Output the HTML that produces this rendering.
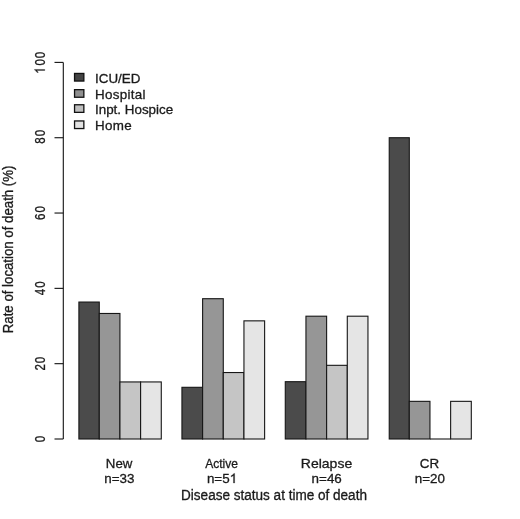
<!DOCTYPE html>
<html><head><meta charset="utf-8"><style>
html,body{margin:0;padding:0;background:#fff;}
svg{display:block;will-change:transform;}
text{font-family:"Liberation Sans",sans-serif;font-size:13.4px;fill:#1a1a1a;stroke:#1a1a1a;stroke-width:0.3px;}
</style></head><body>
<svg width="520" height="519" viewBox="0 0 520 519">
<rect width="520" height="519" fill="#fff"/>
<rect x="78.90" y="302.05" width="20.37" height="136.95" fill="#4b4b4b" stroke="#161616" stroke-width="1.1"/>
<rect x="99.27" y="313.47" width="20.67" height="125.53" fill="#969696" stroke="#161616" stroke-width="1.1"/>
<rect x="119.94" y="381.94" width="20.67" height="57.06" fill="#c5c5c5" stroke="#161616" stroke-width="1.1"/>
<rect x="140.61" y="381.94" width="20.67" height="57.06" fill="#e5e5e5" stroke="#161616" stroke-width="1.1"/>
<rect x="181.94" y="387.31" width="20.67" height="51.69" fill="#4b4b4b" stroke="#161616" stroke-width="1.1"/>
<rect x="202.61" y="298.70" width="20.67" height="140.30" fill="#969696" stroke="#161616" stroke-width="1.1"/>
<rect x="223.28" y="372.54" width="20.67" height="66.46" fill="#c5c5c5" stroke="#161616" stroke-width="1.1"/>
<rect x="243.95" y="320.85" width="20.67" height="118.15" fill="#e5e5e5" stroke="#161616" stroke-width="1.1"/>
<rect x="285.28" y="381.69" width="20.67" height="57.31" fill="#4b4b4b" stroke="#161616" stroke-width="1.1"/>
<rect x="305.95" y="316.20" width="20.67" height="122.80" fill="#969696" stroke="#161616" stroke-width="1.1"/>
<rect x="326.62" y="365.32" width="20.67" height="73.68" fill="#c5c5c5" stroke="#161616" stroke-width="1.1"/>
<rect x="347.29" y="316.20" width="20.67" height="122.80" fill="#e5e5e5" stroke="#161616" stroke-width="1.1"/>
<rect x="389.23" y="137.72" width="20.07" height="301.28" fill="#4b4b4b" stroke="#161616" stroke-width="1.1"/>
<rect x="409.29" y="401.34" width="20.67" height="37.66" fill="#969696" stroke="#161616" stroke-width="1.1"/>
<line x1="429.96" y1="439.0" x2="450.63" y2="439.0" stroke="#161616" stroke-width="1.1"/>
<rect x="450.63" y="401.34" width="20.67" height="37.66" fill="#e5e5e5" stroke="#161616" stroke-width="1.1"/>
<line x1="63.3" y1="62.4" x2="63.3" y2="439.0" stroke="#111" stroke-width="1.1"/>
<line x1="54.5" y1="439.00" x2="63.3" y2="439.00" stroke="#111" stroke-width="1.1"/>
<g transform="translate(44.8,439.00) rotate(-90) scale(1,1.07)"><g transform="translate(0.000,0) scale(0.86,1) translate(-3.726,0)"><text x="0" y="0">0</text></g></g>
<line x1="54.5" y1="363.68" x2="63.3" y2="363.68" stroke="#111" stroke-width="1.1"/>
<g transform="translate(44.8,363.68) rotate(-90) scale(1,1.07)"><g transform="translate(-3.726,0) scale(0.86,1) translate(-3.726,0)"><text x="0" y="0">2</text></g><g transform="translate(3.726,0) scale(0.86,1) translate(-3.726,0)"><text x="0" y="0">0</text></g></g>
<line x1="54.5" y1="288.36" x2="63.3" y2="288.36" stroke="#111" stroke-width="1.1"/>
<g transform="translate(44.8,288.36) rotate(-90) scale(1,1.07)"><g transform="translate(-3.726,0) scale(0.86,1) translate(-3.726,0)"><text x="0" y="0">4</text></g><g transform="translate(3.726,0) scale(0.86,1) translate(-3.726,0)"><text x="0" y="0">0</text></g></g>
<line x1="54.5" y1="213.04" x2="63.3" y2="213.04" stroke="#111" stroke-width="1.1"/>
<g transform="translate(44.8,213.04) rotate(-90) scale(1,1.07)"><g transform="translate(-3.726,0) scale(0.86,1) translate(-3.726,0)"><text x="0" y="0">6</text></g><g transform="translate(3.726,0) scale(0.86,1) translate(-3.726,0)"><text x="0" y="0">0</text></g></g>
<line x1="54.5" y1="137.72" x2="63.3" y2="137.72" stroke="#111" stroke-width="1.1"/>
<g transform="translate(44.8,136.72) rotate(-90) scale(1,1.07)"><g transform="translate(-3.726,0) scale(0.86,1) translate(-3.726,0)"><text x="0" y="0">8</text></g><g transform="translate(3.726,0) scale(0.86,1) translate(-3.726,0)"><text x="0" y="0">0</text></g></g>
<line x1="54.5" y1="62.40" x2="63.3" y2="62.40" stroke="#111" stroke-width="1.1"/>
<g transform="translate(44.8,62.40) rotate(-90) scale(1,1.07)"><g transform="translate(-7.452,0) scale(0.86,1) translate(-3.726,0)"><path d="M763 0L583 0L583 1147C540 1106 483 1065 413 1024C343 983 280 952 223 931L223 1105C323 1152 410 1209 485 1276C560 1343 613 1407 644 1466L763 1466Z" transform="translate(-0.8,0) scale(0.006543,-0.006543)" fill="#1a1a1a" stroke="#1a1a1a" stroke-width="0.3" vector-effect="non-scaling-stroke"/></g><g transform="translate(-0.000,0) scale(0.86,1) translate(-3.726,0)"><text x="0" y="0">0</text></g><g transform="translate(7.452,0) scale(0.86,1) translate(-3.726,0)"><text x="0" y="0">0</text></g></g>
<text transform="translate(13.00,249.40) rotate(-90) scale(0.988,1.08)" text-anchor="middle">Rate of location of death (%)</text>
<text transform="translate(119.10,467.8) scale(0.99,1.0)" text-anchor="middle">New</text>
<text transform="translate(119.40,483) scale(1.0,1.0)" text-anchor="middle">n=33</text>
<text transform="translate(221.60,467.8) scale(0.9,1.0)" text-anchor="middle">Active</text>
<g transform="translate(222.00,483) scale(1.0,1.0)"><text x="-15.091" y="0">n=5</text><path d="M763 0L583 0L583 1147C540 1106 483 1065 413 1024C343 983 280 952 223 931L223 1105C323 1152 410 1209 485 1276C560 1343 613 1407 644 1466L763 1466Z" transform="translate(7.639,0) scale(0.006543,-0.006543)" fill="#1a1a1a" stroke="#1a1a1a" stroke-width="0.3" vector-effect="non-scaling-stroke"/></g>
<text transform="translate(326.50,467.8) scale(1.045,1.0)" text-anchor="middle">Relapse</text>
<text transform="translate(326.70,483) scale(1.0,1.0)" text-anchor="middle">n=46</text>
<text transform="translate(429.40,467.8) scale(1.0,1.0)" text-anchor="middle">CR</text>
<text transform="translate(429.80,483) scale(1.0,1.0)" text-anchor="middle">n=20</text>
<text transform="translate(274.0,499.6) scale(1.012,1.05)" text-anchor="middle">Disease status at time of death</text>
<rect x="74.55" y="73.45" width="9.3" height="7.6" fill="#444444" stroke="#111" stroke-width="1.3"/>
<text transform="translate(95.0,82.90) scale(1,1.0)">ICU/ED</text>
<rect x="74.55" y="89.65" width="9.3" height="7.6" fill="#8f8f8f" stroke="#111" stroke-width="1.3"/>
<text transform="translate(95.0,98.50) scale(1,1.0)" letter-spacing="0.3">Hospital</text>
<rect x="74.55" y="104.75" width="9.3" height="7.6" fill="#bfbfbf" stroke="#111" stroke-width="1.3"/>
<text transform="translate(95.0,114.20) scale(1,1.0)">Inpt. Hospice</text>
<rect x="74.55" y="120.95" width="9.3" height="7.6" fill="#e2e2e2" stroke="#111" stroke-width="1.3"/>
<text transform="translate(95.0,129.90) scale(1,1.0)" letter-spacing="0.3">Home</text>
</svg>
</body></html>
